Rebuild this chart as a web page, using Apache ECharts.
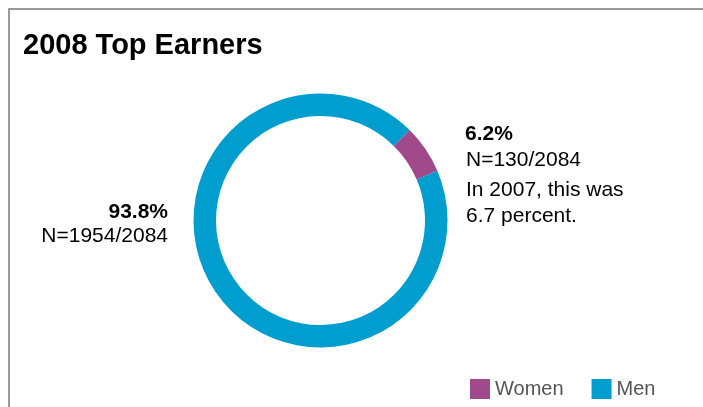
<!DOCTYPE html>
<html>
<head>
<meta charset="utf-8">
<style>
  html, body { margin: 0; padding: 0; background: #fff; }
  #chart { width: 703px; height: 407px; }
</style>
<script src="https://cdn.jsdelivr.net/npm/echarts@6/dist/echarts.min.js"></script>
</head>
<body>
<div id="chart"></div>
<script>
const categories = ['Women', 'Men'];
const counts = [130, 1954];
const total = 2084;
const colors = ['#a0498b', '#009ecf'];
const notes2007 = ['In 2007, this was', '6.7 percent.'];

const font = "'Liberation Sans', Arial, sans-serif";
const pct = counts.map(c => (c / total * 100).toFixed(1) + '%');

const chart = echarts.init(document.getElementById('chart'));

chart.setOption({
    animation: false,
    title: {
        text: '2008 Top Earners',
        left: 23,
        top: 31,
        padding: 0,
        textStyle: { fontFamily: font, fontSize: 29, fontWeight: 'bold', color: '#000' }
    },
    legend: {
        data: categories,
        left: 470,
        top: 379,
        padding: 0,
        itemWidth: 20,
        itemHeight: 20,
        itemGap: 28,
        icon: 'rect',
        textStyle: { fontFamily: font, fontSize: 20, color: '#555', padding: [3, 0, 0, 0] }
    },
    graphic: [
        // frame
        { type: 'polyline', shape: { points: [[9, 407], [9, 9], [703, 9]] },
          style: { stroke: '#7a7a7a', lineWidth: 1.5, fill: null } },
        // women label
        { type: 'text', style: { x: 465, y: 134.5, text: pct[0], font: 'bold 21px ' + font, fill: '#000', verticalAlign: 'middle' } },
        { type: 'text', style: { x: 466, y: 160.5, text: 'N=' + counts[0] + '/' + total, font: '21px ' + font, fill: '#000', verticalAlign: 'middle' } },
        { type: 'text', style: { x: 466, y: 190.5, text: notes2007[0], font: '21px ' + font, fill: '#000', verticalAlign: 'middle' } },
        { type: 'text', style: { x: 466, y: 216, text: notes2007[1], font: '21px ' + font, fill: '#000', verticalAlign: 'middle' } },
        // men label
        { type: 'text', style: { x: 168, y: 212, text: pct[1], font: 'bold 21px ' + font, fill: '#000', align: 'right', verticalAlign: 'middle' } },
        { type: 'text', style: { x: 168, y: 236, text: 'N=' + counts[1] + '/' + total, font: '21px ' + font, fill: '#000', align: 'right', verticalAlign: 'middle' } }
    ],
    series: [{
        type: 'pie',
        center: [320.5, 220.5],
        radius: [104.5, 127],
        startAngle: 45.5,
        clockwise: true,
        label: { show: false },
        labelLine: { show: false },
        emphasis: { disabled: true },
        itemStyle: { borderWidth: 0 },
        data: categories.map((name, i) => ({
            name: name,
            value: counts[i],
            itemStyle: { color: colors[i] }
        }))
    }]
});
</script>
</body>
</html>
